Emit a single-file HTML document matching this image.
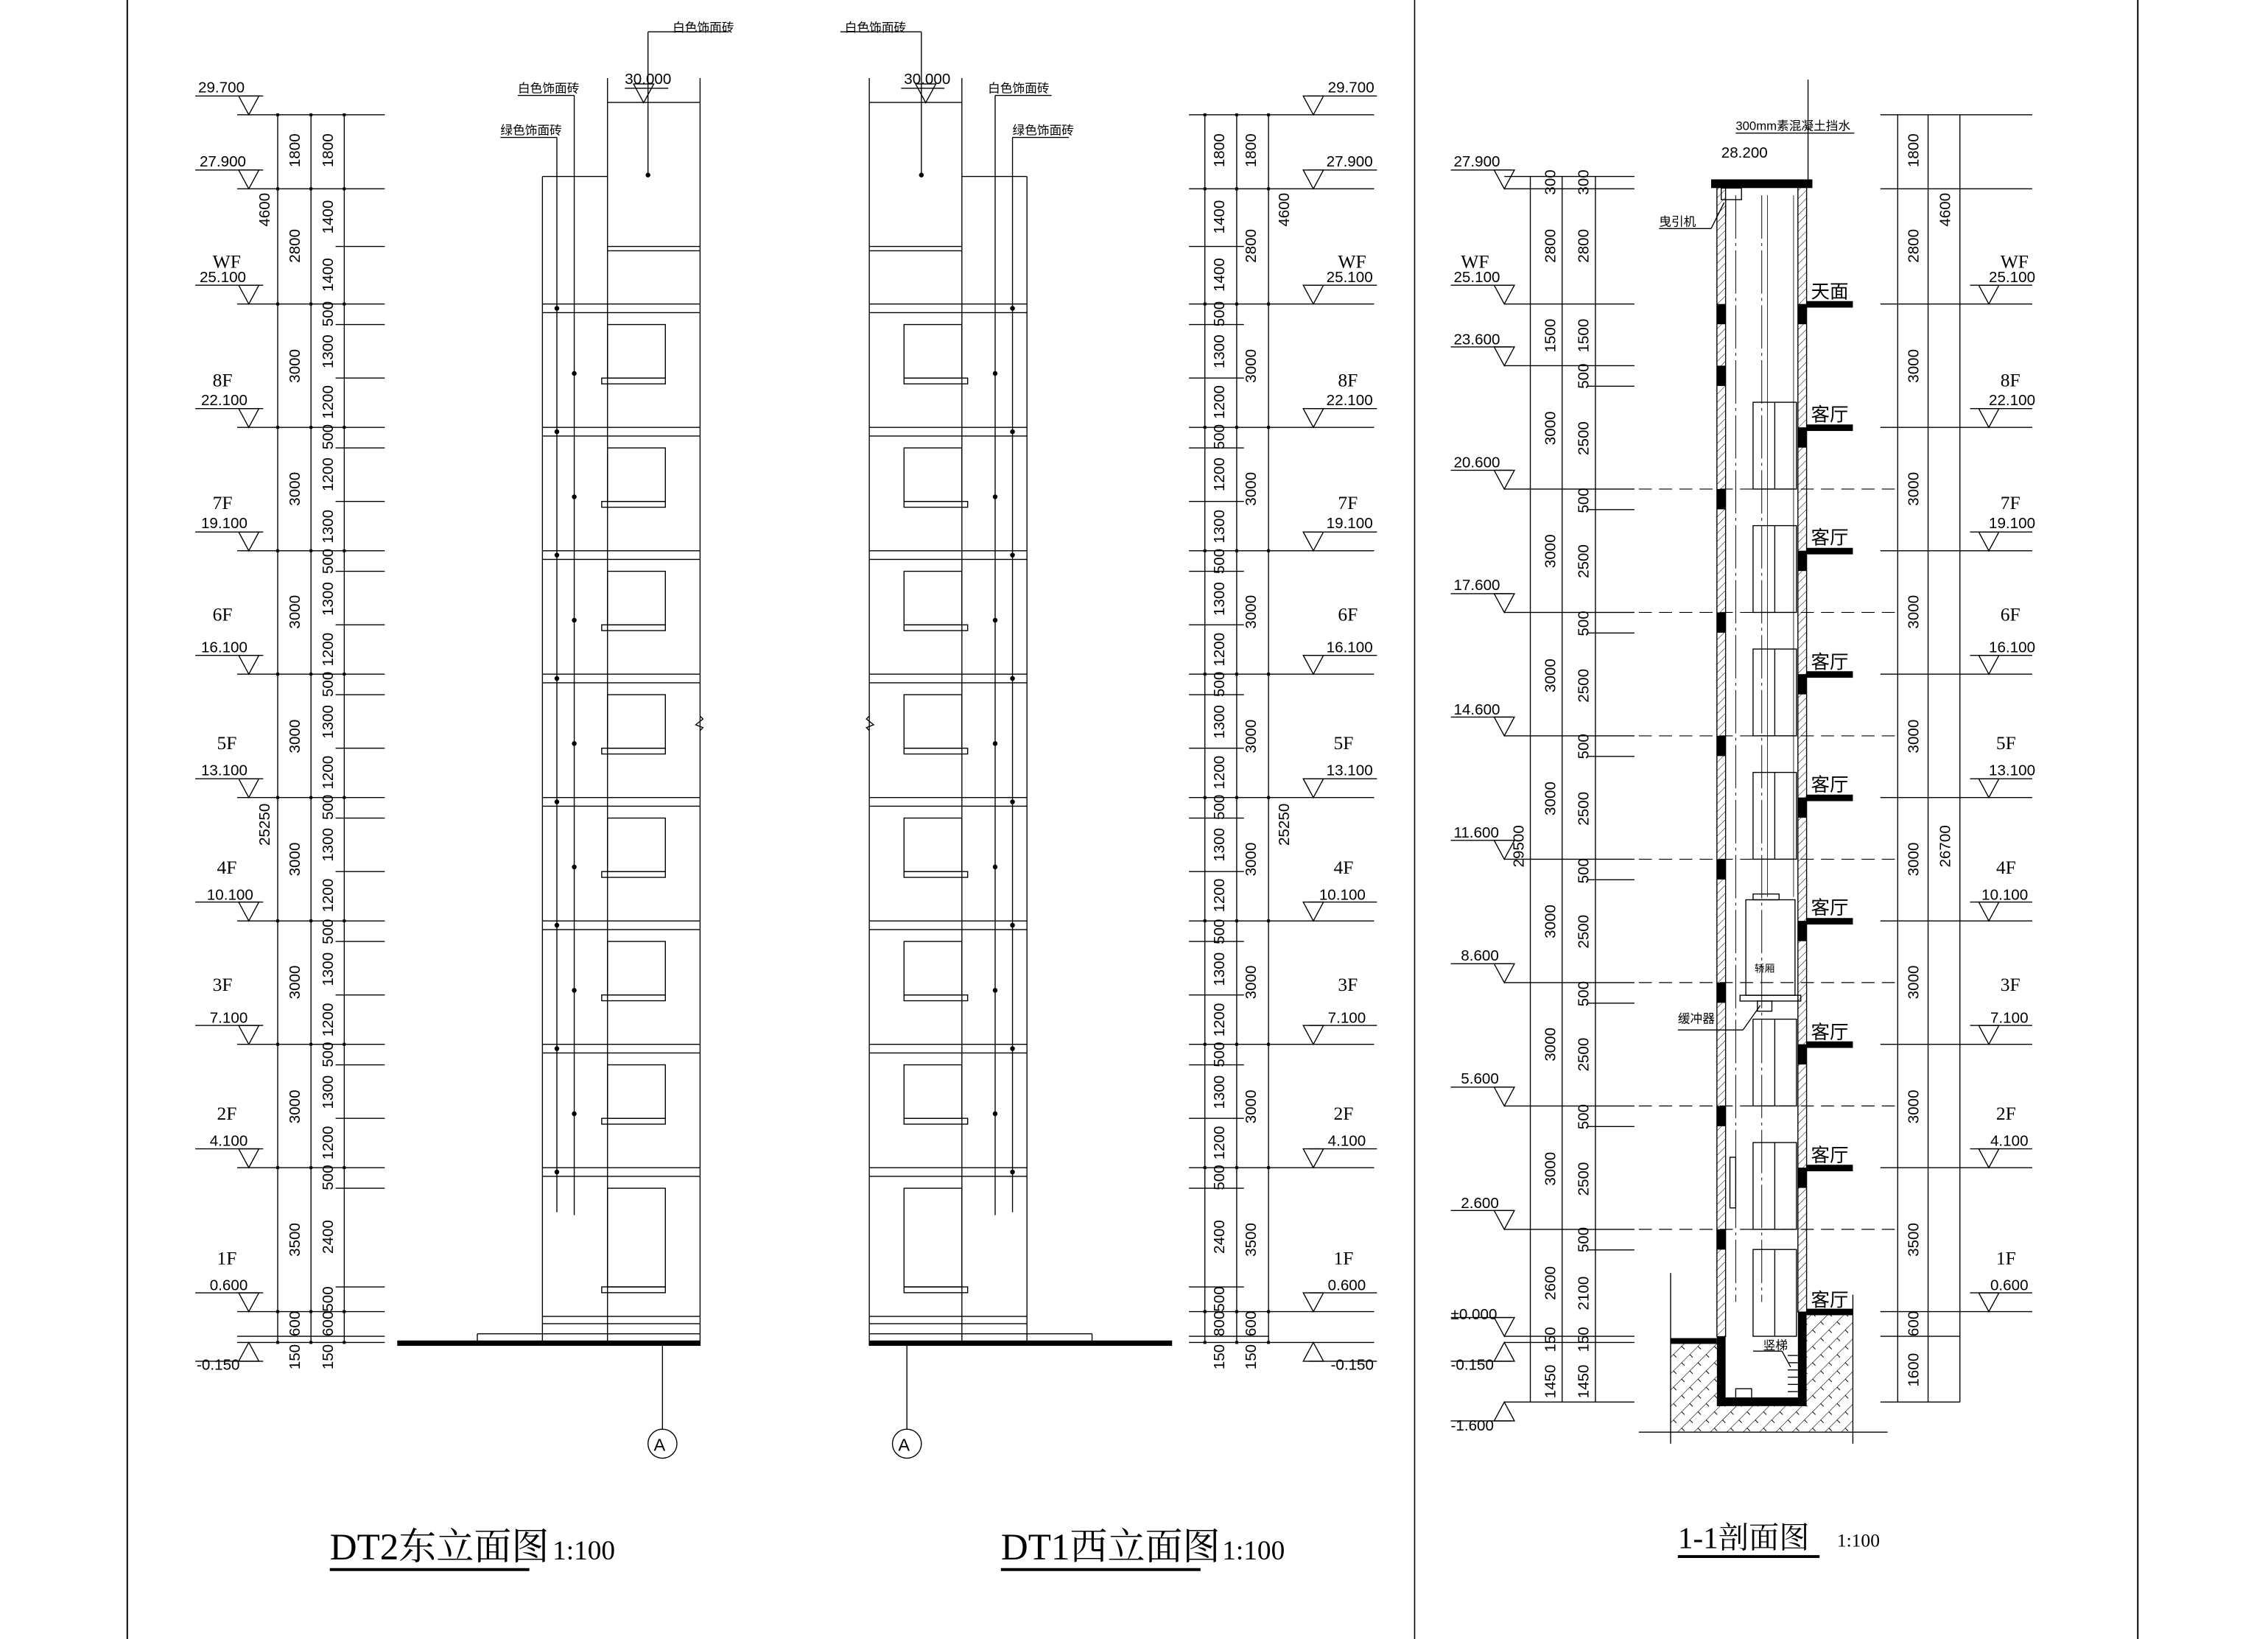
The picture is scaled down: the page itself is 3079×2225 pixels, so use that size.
<!DOCTYPE html>
<html><head><meta charset="utf-8">
<style>
html,body{margin:0;padding:0;background:#fff}
svg{display:block}
text{font-family:"Liberation Sans Narrow","Liberation Sans","Noto Sans CJK SC",sans-serif;fill:#000}
.n{font-size:10.5px}
.d{font-size:10.5px;text-anchor:middle;dominant-baseline:central}
.f{font-size:13px;font-family:"Liberation Serif","Noto Serif CJK SC",serif}
.c{font-size:8.5px;font-family:"Liberation Sans","Noto Sans CJK SC",sans-serif}
.k{font-size:13px;font-family:"Liberation Sans","Noto Sans CJK SC",sans-serif}
.t{font-size:26px;font-family:"Liberation Serif","Noto Serif CJK SC",serif}
.s{font-size:19px;font-family:"Liberation Serif","Noto Serif CJK SC",serif}
</style></head>
<body>
<svg id="svg" xmlns="http://www.w3.org/2000/svg" width="3079" height="2225" viewBox="0 0 1568 1133" preserveAspectRatio="none">
<defs>
<pattern id="h1" width="4" height="4" patternUnits="userSpaceOnUse" patternTransform="rotate(45)"><line x1="0" y1="0" x2="0" y2="4" stroke="#000" stroke-width="0.5"/></pattern>
<pattern id="h2" width="8" height="8" patternUnits="userSpaceOnUse" patternTransform="rotate(45)"><line x1="0" y1="0" x2="0" y2="8" stroke="#000" stroke-width="0.6"/><line x1="0" y1="4" x2="3" y2="4" stroke="#000" stroke-width="0.5"/></pattern>
</defs>
<rect width="1568" height="1133" fill="#fff"/>
<g id="g" stroke="#000" stroke-width="0.7" fill="none"></g>

<g class="n">
<text x="137" y="64">29.700</text><text x="138" y="115">27.900</text>
<text x="147" y="185" class="f">WF</text><text x="138" y="195">25.100</text>
<text x="147" y="267" class="f">8F</text><text x="139" y="280">22.100</text>
<text x="147" y="352" class="f">7F</text><text x="139" y="365">19.100</text>
<text x="147" y="429" class="f">6F</text><text x="139" y="451">16.100</text>
<text x="150" y="518" class="f">5F</text><text x="139" y="536">13.100</text>
<text x="150" y="604" class="f">4F</text><text x="143" y="622">10.100</text>
<text x="147" y="685" class="f">3F</text><text x="145" y="707">7.100</text>
<text x="150" y="774" class="f">2F</text><text x="145" y="792">4.100</text>
<text x="150" y="874" class="f">1F</text><text x="145" y="892">0.600</text>
<text x="136" y="947">-0.150</text>
</g>
<g class="d">
<text transform="translate(204,104) rotate(-90)">1800</text><text transform="translate(227,104) rotate(-90)">1800</text>
<text transform="translate(204,170) rotate(-90)">2800</text><text transform="translate(227,150) rotate(-90)">1400</text><text transform="translate(227,190) rotate(-90)">1400</text>
<text transform="translate(183,145) rotate(-90)">4600</text><text transform="translate(183,570) rotate(-90)">25250</text>
<text transform="translate(204,253) rotate(-90)">3000</text><text transform="translate(227,217) rotate(-90)">500</text><text transform="translate(227,243) rotate(-90)">1300</text><text transform="translate(227,278) rotate(-90)">1200</text>
<text transform="translate(204,338) rotate(-90)">3000</text><text transform="translate(227,302) rotate(-90)">500</text><text transform="translate(227,328) rotate(-90)">1200</text><text transform="translate(227,364) rotate(-90)">1300</text>
<text transform="translate(204,423) rotate(-90)">3000</text><text transform="translate(227,388) rotate(-90)">500</text><text transform="translate(227,414) rotate(-90)">1300</text><text transform="translate(227,449) rotate(-90)">1200</text>
<text transform="translate(204,509) rotate(-90)">3000</text><text transform="translate(227,473) rotate(-90)">500</text><text transform="translate(227,499) rotate(-90)">1300</text><text transform="translate(227,534) rotate(-90)">1200</text>
<text transform="translate(204,594) rotate(-90)">3000</text><text transform="translate(227,558) rotate(-90)">500</text><text transform="translate(227,584) rotate(-90)">1300</text><text transform="translate(227,619) rotate(-90)">1200</text>
<text transform="translate(204,679) rotate(-90)">3000</text><text transform="translate(227,644) rotate(-90)">500</text><text transform="translate(227,670) rotate(-90)">1300</text><text transform="translate(227,705) rotate(-90)">1200</text>
<text transform="translate(204,765) rotate(-90)">3000</text><text transform="translate(227,729) rotate(-90)">500</text><text transform="translate(227,755) rotate(-90)">1300</text><text transform="translate(227,790) rotate(-90)">1200</text>
<text transform="translate(204,857) rotate(-90)">3500</text><text transform="translate(227,814) rotate(-90)">500</text><text transform="translate(227,855) rotate(-90)">2400</text><text transform="translate(227,898) rotate(-90)">500</text>
<text transform="translate(204,915) rotate(-90)">600</text><text transform="translate(227,915) rotate(-90)">600</text>
<text transform="translate(204,938) rotate(-90)">150</text><text transform="translate(227,938) rotate(-90)">150</text>
</g>
<g class="c">
<text x="465" y="22">白色饰面砖</text><text x="358" y="64">白色饰面砖</text><text x="346" y="93">绿色饰面砖</text>
<text x="584" y="22">白色饰面砖</text><text x="683" y="64">白色饰面砖</text><text x="700" y="93">绿色饰面砖</text>
</g>
<g class="n"><text x="432" y="58">30.000</text><text x="625" y="58">30.000</text></g>

<g class="n">
<text x="918" y="64">29.700</text><text x="917" y="115">27.900</text>
<text x="925" y="185" class="f">WF</text><text x="917" y="195">25.100</text>
<text x="925" y="267" class="f">8F</text><text x="917" y="280">22.100</text>
<text x="925" y="352" class="f">7F</text><text x="917" y="365">19.100</text>
<text x="925" y="429" class="f">6F</text><text x="917" y="451">16.100</text>
<text x="922" y="518" class="f">5F</text><text x="917" y="536">13.100</text>
<text x="922" y="604" class="f">4F</text><text x="912" y="622">10.100</text>
<text x="925" y="685" class="f">3F</text><text x="918" y="707">7.100</text>
<text x="922" y="774" class="f">2F</text><text x="918" y="792">4.100</text>
<text x="922" y="874" class="f">1F</text><text x="918" y="892">0.600</text>
<text x="920" y="947">-0.150</text>
</g>
<g class="d">
<text transform="translate(843,104) rotate(-90)">1800</text><text transform="translate(865,104) rotate(-90)">1800</text>
<text transform="translate(865,170) rotate(-90)">2800</text><text transform="translate(843,150) rotate(-90)">1400</text><text transform="translate(843,190) rotate(-90)">1400</text>
<text transform="translate(888,145) rotate(-90)">4600</text><text transform="translate(888,570) rotate(-90)">25250</text>
<text transform="translate(865,253) rotate(-90)">3000</text><text transform="translate(843,217) rotate(-90)">500</text><text transform="translate(843,243) rotate(-90)">1300</text><text transform="translate(843,278) rotate(-90)">1200</text>
<text transform="translate(865,338) rotate(-90)">3000</text><text transform="translate(843,302) rotate(-90)">500</text><text transform="translate(843,328) rotate(-90)">1200</text><text transform="translate(843,364) rotate(-90)">1300</text>
<text transform="translate(865,423) rotate(-90)">3000</text><text transform="translate(843,388) rotate(-90)">500</text><text transform="translate(843,414) rotate(-90)">1300</text><text transform="translate(843,449) rotate(-90)">1200</text>
<text transform="translate(865,509) rotate(-90)">3000</text><text transform="translate(843,473) rotate(-90)">500</text><text transform="translate(843,499) rotate(-90)">1300</text><text transform="translate(843,534) rotate(-90)">1200</text>
<text transform="translate(865,594) rotate(-90)">3000</text><text transform="translate(843,558) rotate(-90)">500</text><text transform="translate(843,584) rotate(-90)">1300</text><text transform="translate(843,619) rotate(-90)">1200</text>
<text transform="translate(865,679) rotate(-90)">3000</text><text transform="translate(843,644) rotate(-90)">500</text><text transform="translate(843,670) rotate(-90)">1300</text><text transform="translate(843,705) rotate(-90)">1200</text>
<text transform="translate(865,765) rotate(-90)">3000</text><text transform="translate(843,729) rotate(-90)">500</text><text transform="translate(843,755) rotate(-90)">1300</text><text transform="translate(843,790) rotate(-90)">1200</text>
<text transform="translate(865,857) rotate(-90)">3500</text><text transform="translate(843,814) rotate(-90)">500</text><text transform="translate(843,855) rotate(-90)">2400</text><text transform="translate(843,898) rotate(-90)">500</text>
<text transform="translate(843,915) rotate(-90)">800</text><text transform="translate(865,915) rotate(-90)">600</text>
<text transform="translate(843,938) rotate(-90)">150</text><text transform="translate(865,938) rotate(-90)">150</text>
</g>

<g class="n">
<text x="1005" y="115">27.900</text>
<text x="1010" y="185" class="f">WF</text><text x="1005" y="195">25.100</text>
<text x="1005" y="238">23.600</text><text x="1005" y="323">20.600</text><text x="1005" y="408">17.600</text>
<text x="1005" y="494">14.600</text><text x="1005" y="579">11.600</text><text x="1010" y="664">8.600</text>
<text x="1010" y="749">5.600</text><text x="1010" y="835">2.600</text><text x="1003" y="912">±0.000</text>
<text x="1003" y="947">-0.150</text><text x="1003" y="989">-1.600</text>
<text x="1190" y="109">28.200</text>
<text x="1383" y="185" class="f">WF</text><text x="1375" y="195">25.100</text>
<text x="1383" y="267" class="f">8F</text><text x="1375" y="280">22.100</text>
<text x="1383" y="352" class="f">7F</text><text x="1375" y="365">19.100</text>
<text x="1383" y="429" class="f">6F</text><text x="1375" y="451">16.100</text>
<text x="1380" y="518" class="f">5F</text><text x="1375" y="536">13.100</text>
<text x="1380" y="604" class="f">4F</text><text x="1370" y="622">10.100</text>
<text x="1383" y="685" class="f">3F</text><text x="1376" y="707">7.100</text>
<text x="1380" y="774" class="f">2F</text><text x="1376" y="792">4.100</text>
<text x="1380" y="874" class="f">1F</text><text x="1376" y="892">0.600</text>
</g>
<g class="d">
<text transform="translate(1072,126) rotate(-90)">300</text><text transform="translate(1095,126) rotate(-90)">300</text>
<text transform="translate(1072,170) rotate(-90)">2800</text><text transform="translate(1095,170) rotate(-90)">2800</text>
<text transform="translate(1072,232) rotate(-90)">1500</text><text transform="translate(1095,232) rotate(-90)">1500</text>
<text transform="translate(1050,585) rotate(-90)">29500</text>
<text transform="translate(1072,296) rotate(-90)">3000</text><text transform="translate(1095,260) rotate(-90)">500</text><text transform="translate(1095,303) rotate(-90)">2500</text>
<text transform="translate(1072,381) rotate(-90)">3000</text><text transform="translate(1095,346) rotate(-90)">500</text><text transform="translate(1095,388) rotate(-90)">2500</text>
<text transform="translate(1072,467) rotate(-90)">3000</text><text transform="translate(1095,431) rotate(-90)">500</text><text transform="translate(1095,474) rotate(-90)">2500</text>
<text transform="translate(1072,552) rotate(-90)">3000</text><text transform="translate(1095,516) rotate(-90)">500</text><text transform="translate(1095,559) rotate(-90)">2500</text>
<text transform="translate(1072,637) rotate(-90)">3000</text><text transform="translate(1095,602) rotate(-90)">500</text><text transform="translate(1095,644) rotate(-90)">2500</text>
<text transform="translate(1072,722) rotate(-90)">3000</text><text transform="translate(1095,687) rotate(-90)">500</text><text transform="translate(1095,729) rotate(-90)">2500</text>
<text transform="translate(1072,808) rotate(-90)">3000</text><text transform="translate(1095,772) rotate(-90)">500</text><text transform="translate(1095,815) rotate(-90)">2500</text>
<text transform="translate(1072,887) rotate(-90)">2600</text><text transform="translate(1095,857) rotate(-90)">500</text><text transform="translate(1095,894) rotate(-90)">2100</text>
<text transform="translate(1072,926) rotate(-90)">150</text><text transform="translate(1095,926) rotate(-90)">150</text>
<text transform="translate(1072,955) rotate(-90)">1450</text><text transform="translate(1095,955) rotate(-90)">1450</text>
<text transform="translate(1323,104) rotate(-90)">1800</text><text transform="translate(1323,170) rotate(-90)">2800</text>
<text transform="translate(1345,145) rotate(-90)">4600</text><text transform="translate(1345,585) rotate(-90)">26700</text>
<text transform="translate(1323,253) rotate(-90)">3000</text><text transform="translate(1323,338) rotate(-90)">3000</text>
<text transform="translate(1323,423) rotate(-90)">3000</text><text transform="translate(1323,509) rotate(-90)">3000</text>
<text transform="translate(1323,594) rotate(-90)">3000</text><text transform="translate(1323,679) rotate(-90)">3000</text>
<text transform="translate(1323,765) rotate(-90)">3000</text><text transform="translate(1323,857) rotate(-90)">3500</text>
<text transform="translate(1323,915) rotate(-90)">600</text><text transform="translate(1323,947) rotate(-90)">1600</text>
</g>
<g class="k">
<text x="1252" y="206">天面</text>
<text x="1252" y="291">客厅</text><text x="1252" y="376">客厅</text><text x="1252" y="462">客厅</text>
<text x="1252" y="547">客厅</text><text x="1252" y="632">客厅</text><text x="1252" y="718">客厅</text>
<text x="1252" y="803">客厅</text><text x="1252" y="903">客厅</text>
</g>
<g class="c">
<text x="1200" y="90">300mm素混凝土挡水</text><text x="1147" y="156">曳引机</text>
<text x="1213" y="672" style="font-size:7px">轿厢</text><text x="1160" y="707">缓冲器</text><text x="1219" y="933">竖梯</text>
</g>
<text x="452" y="1003" style="font-size:12px">A</text><text x="621" y="1003" style="font-size:12px">A</text>

<text x="228" y="1078" class="t">DT2东立面图</text><text x="382" y="1078" class="s">1:100</text>
<text x="692" y="1078" class="t">DT1西立面图</text><text x="845" y="1078" class="s">1:100</text>
<text x="1160" y="1070" class="t" style="font-size:21px">1-1剖面图</text><text x="1270" y="1069" class="s" style="font-size:13px">1:100</text>
<g stroke="#000" stroke-width="2"><line x1="228" y1="1085" x2="366" y2="1085"/><line x1="692" y1="1085" x2="830" y2="1085"/><line x1="1160" y1="1076" x2="1258" y2="1076"/></g>
</svg>
<script>
const G=document.getElementById('g');const NS='http://www.w3.org/2000/svg';
function el(t,a){const e=document.createElementNS(NS,t);for(const k in a)e.setAttribute(k,a[k]);G.appendChild(e);return e;}
function L(x1,y1,x2,y2,w,ex){const a={x1,y1,x2,y2};if(w)a['stroke-width']=w;if(ex)Object.assign(a,ex);return el('line',a);}
function R(x,y,w,h,fill,ex){const a={x,y,width:w,height:h};if(fill)a.fill=fill;if(ex)Object.assign(a,ex);return el('rect',a);}
const Y=h=>928-(h+0.15)*28.43;
L(88,0,88,1133,1);L(978,0,978,1133,0.8);L(1478,0,1478,1133,1);
function tri(tip,y,up){const d=up?13:-13;el('polygon',{points:`${tip-7},${y+d} ${tip+7},${y+d} ${tip},${y}`});}
const ML=[29.7,27.9,25.1,22.1,19.1,16.1,13.1,10.1,7.1,4.1,0.6,-0.15];
const FL=[25.1,22.1,19.1,16.1,13.1,10.1,7.1,4.1];
function elev(mir){
 const m=x=>mir?1085-x:x;
 const cols=mir?[833,855,877]:[192,215,238];
 cols.forEach(x=>L(x,Y(29.7),x,928));
 const t0=mir?822:164, t1=mir?950:266;
 ML.forEach(h=>{const y=Y(h);L(t0,y,t1,y);
   const tip=mir?908:172; const ux0=mir?905:135, ux1=mir?952:182;
   if(h===-0.15){L(ux0,y+13,ux1,y+13);tri(tip,y,true);} else {L(ux0,y-13,ux1,y-13);tri(tip,y,false);} });
 L(t0,Y(0),mir?877:t1,Y(0));
 const sx0=mir?822:232, sx1=mir?860:266;
 FL.slice(0,7).forEach(h=>{const y=Y(h);L(sx0,y+14.2,sx1,y+14.2);L(sx0,y+51.2,sx1,y+51.2);});
 L(sx0,Y(26.5),sx1,Y(26.5));L(sx0,821.4,sx1,821.4);L(sx0,889.6,sx1,889.6);
 cols.forEach(x=>ML.forEach(h=>{R(x-1,Y(h)-1,2,2,'#000',{stroke:'none'});}));
 const xa=m(375),xg=m(385),xw=m(397),xi=m(420),xo=m(484),xwin=m(460);
 L(xa,Y(28.2),xa,928);L(xi,54,xi,928);L(xo,54,xo,928);
 L(Math.min(xa,xi),Y(28.2),Math.max(xa,xi),Y(28.2));
 L(Math.min(xi,xo),Y(30),Math.max(xi,xo),Y(30));
 L(Math.min(xi,xo),Y(26.5),Math.max(xi,xo),Y(26.5));L(Math.min(xi,xo),Y(26.5)+3,Math.max(xi,xo),Y(26.5)+3);
 L(xg,95,xg,838);L(xw,66,xw,840);
 FL.forEach(h=>{const y=Y(h);L(Math.min(xa,xo),y,Math.max(xa,xo),y);L(Math.min(xa,xo),y+6,Math.max(xa,xo),y+6);
   el('circle',{cx:xg,cy:y+3,r:1.3,fill:'#000'});});
 FL.slice(0,7).forEach(h=>{const y=Y(h);el('circle',{cx:xw,cy:y+48,r:1.3,fill:'#000'});
   R(Math.min(xi,xwin),y+14.2,Math.abs(xwin-xi),37);
   R(Math.min(m(416),xwin),y+51.2,Math.abs(xwin-m(416)),4);});
 R(Math.min(xi,xwin),821.4,Math.abs(xwin-xi),68.2);R(Math.min(m(416),xwin),889.6,Math.abs(xwin-m(416)),4);
 L(Math.min(xa,xo),910,Math.max(xa,xo),910);L(Math.min(xa,xo),915,Math.max(xa,xo),915);
 L(Math.min(m(330),xo),922,Math.max(m(330),xo),922);L(m(330),922,m(330),928);
 R(Math.min(m(275),xo),927,Math.abs(xo-m(275)),3,'#000');
 const lx=m(448);L(lx,22,lx,121);el('circle',{cx:lx,cy:121,r:1.3,fill:'#000'});L(lx,22,m(504),22);
 L(xw,66,m(358),66);L(xg,95,m(346),95);
 L(m(458),930,m(458),988);el('circle',{cx:m(458),cy:998,r:10});
 el('polyline',{points:`${xo},495 ${m(486)},497 ${m(481)},501 ${m(486)},503 ${xo},505`});
 L(m(432),61,m(462),61);tri(m(445),71,false);
}
elev(false);elev(true);

const LL=[23.6,20.6,17.6,14.6,11.6,8.6,5.6,2.6];
const RL=[25.1,22.1,19.1,16.1,13.1,10.1,7.1,4.1];
[1058,1080,1103].forEach(x=>L(x,Y(28.2),x,Y(-1.6)));
[28.2,27.9,25.1,23.6,20.6,17.6,14.6,11.6,8.6,5.6,2.6,0,-0.15,-1.6].forEach(h=>L(1040,Y(h),1130,Y(h)));
LL.forEach(h=>L(1097,Y(h)+14.2,1130,Y(h)+14.2));
[27.9,25.1,23.6,20.6,17.6,14.6,11.6,8.6,5.6,2.6,0].forEach(h=>{L(1003,Y(h)-13,1045,Y(h)-13);tri(1040,Y(h),false);});
[-0.15,-1.6].forEach(h=>{L(1003,Y(h)+13,1045,Y(h)+13);tri(1040,Y(h),true);});
[1312,1333,1355].forEach(x=>L(x,Y(29.7),x,Y(-1.6)));
[29.7,27.9,25.1,22.1,19.1,16.1,13.1,10.1,7.1,4.1,0.6,0,-1.6].forEach(h=>L(1300,Y(h),h>=0.6?1405:1355,Y(h)));
[25.1,22.1,19.1,16.1,13.1,10.1,7.1,4.1,0.6].forEach(h=>{L(1362,Y(h)-13,1405,Y(h)-13);tri(1375,Y(h),false);});
R(1187,128,6,796,'url(#h1)');R(1243,128,6,779,'url(#h1)');
[25.1,...LL].forEach(h=>R(1187,Y(h),6,14,'#000',{stroke:'none'}));
RL.forEach(h=>{R(1243,Y(h),6,14,'#000',{stroke:'none'});R(1249,Y(h)-2,32,4.5,'#000',{stroke:'none'});});
R(1249,Y(0.6)-2,32,4.5,'#000',{stroke:'none'});
[20.6,17.6,14.6,11.6,8.6,5.6,2.6].forEach(h=>L(1133,Y(h),1310,Y(h),0.6,{'stroke-dasharray':'9 5'}));
R(1155,928,32,62,'url(#h2)',{stroke:'none'});R(1249,909,32,81,'url(#h2)',{stroke:'none'});R(1187,972,62,18,'url(#h2)',{stroke:'none'});
R(1155,925,32,4,'#000',{stroke:'none'});
R(1187,924,6,48,'#000',{stroke:'none'});R(1243,907,6,65,'#000',{stroke:'none'});R(1187,966,62,6,'#000',{stroke:'none'});
L(1155,880,1155,998);L(1281,895,1281,998);L(1133,990,1305,990);
R(1200,960,11,7);
for(let i=0;i<6;i++)L(1236,937+i*5,1243,937+i*5);
L(1212,934,1232,934);L(1232,934,1238,945);
R(1183,124,70,6,'#000',{stroke:'none'});L(1250,55,1250,124);L(1200,92,1282,92);
R(1190,130,14,8);L(1193,138,1193,150);L(1183,158,1147,158);L(1183,158,1192,140);
L(1200,135,1200,900,0.5,{'stroke-dasharray':'30 3 2 3'});L(1218,135,1218,900,0.5,{'stroke-dasharray':'30 3 2 3'});
L(1222,135,1222,620,0.4);L(1240,135,1240,620,0.4);
R(1207,622,34,66);R(1212,618,18,4);R(1203,688,42,4);R(1215,692,10,7);
L(1160,712,1205,712);L(1205,712,1217,695);
R(1196,800,4,35);
[20.6,17.6,14.6,11.6,5.6,2.6,0].forEach(h=>{const y=Y(h);R(1212,y-60,30,60);L(1227,y-60,1227,y);});
</script>
</body></html>
